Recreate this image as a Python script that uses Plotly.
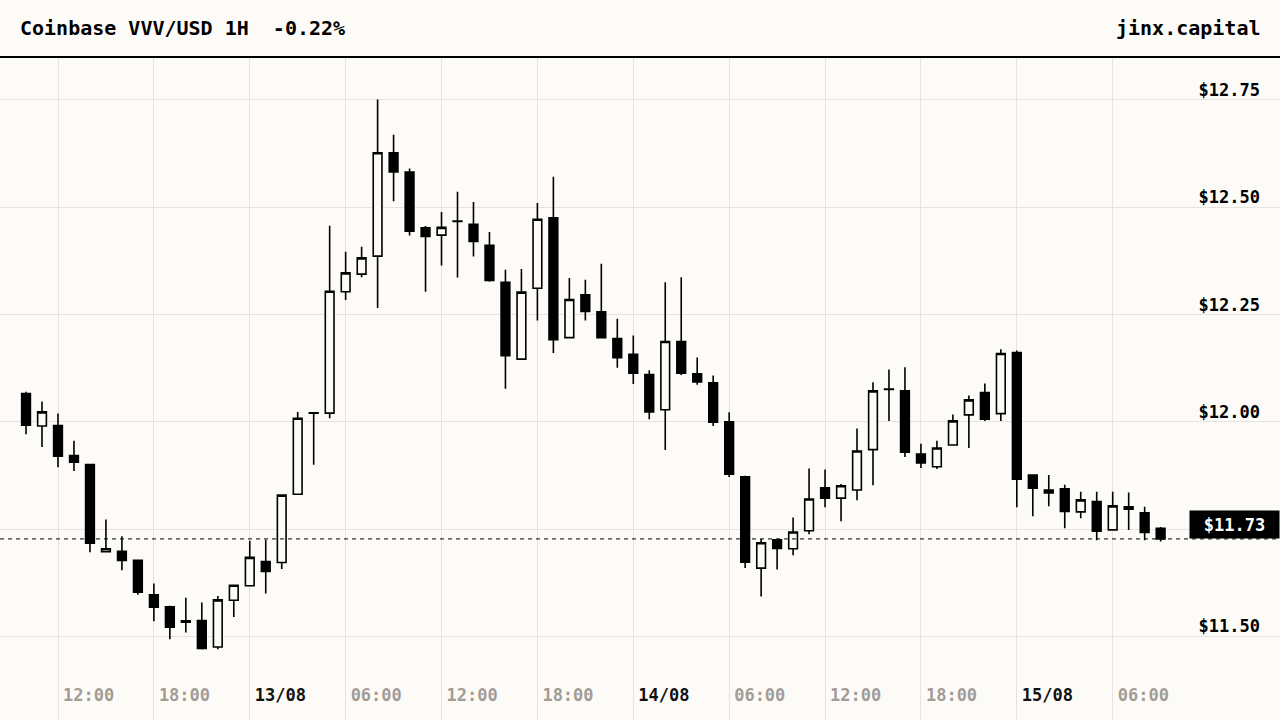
import pandas as pd
import plotly.graph_objects as go

# hourly candles, Coinbase VVV/USD, 12/08 10:00 -> 15/08 09:00
times = pd.date_range("2025-08-12 10:00", periods=72, freq="h")

opens = [
    12.066, 11.990, 11.991, 11.921, 11.900, 11.697, 11.698, 11.677, 11.597, 11.569,
    11.533, 11.537, 11.475, 11.584, 11.618, 11.674, 11.672, 11.831, 12.020, 12.020,
    12.303, 12.344, 12.386, 12.627, 12.582, 12.452, 12.435, 12.467, 12.460, 12.411,
    12.325, 12.146, 12.311, 12.475, 12.196, 12.296, 12.256, 12.194, 12.157, 12.110,
    12.028, 12.187, 12.112, 12.091, 12.000, 11.872, 11.659, 11.725, 11.704, 11.746,
    11.846, 11.822, 11.841, 11.935, 12.075, 12.072, 11.925, 11.895, 11.946, 12.016,
    12.068, 12.019, 12.161, 11.876, 11.841, 11.844, 11.790, 11.814, 11.748, 11.802,
    11.788, 11.752,
]
highs = [
    12.070, 12.047, 12.019, 11.956, 11.900, 11.772, 11.733, 11.679, 11.623, 11.571,
    11.590, 11.579, 11.594, 11.619, 11.723, 11.725, 11.830, 12.023, 12.023, 12.457,
    12.396, 12.408, 12.751, 12.669, 12.590, 12.456, 12.489, 12.536, 12.512, 12.442,
    12.354, 12.356, 12.510, 12.571, 12.335, 12.331, 12.368, 12.240, 12.201, 12.120,
    12.325, 12.337, 12.150, 12.108, 12.022, 11.874, 11.727, 11.727, 11.777, 11.891,
    11.889, 11.855, 11.984, 12.092, 12.122, 12.127, 11.949, 11.956, 12.017, 12.061,
    12.089, 12.169, 12.166, 11.876, 11.876, 11.853, 11.837, 11.837, 11.837, 11.835,
    11.802, 11.755,
]
lows = [
    11.971, 11.941, 11.894, 11.885, 11.696, 11.697, 11.654, 11.597, 11.535, 11.493,
    11.509, 11.469, 11.470, 11.545, 11.616, 11.600, 11.657, 11.831, 11.900, 12.008,
    12.284, 12.337, 12.265, 12.514, 12.434, 12.303, 12.364, 12.336, 12.385, 12.326,
    12.077, 12.146, 12.236, 12.160, 12.196, 12.236, 12.196, 12.126, 12.088, 12.006,
    11.934, 12.109, 12.086, 11.990, 11.871, 11.659, 11.593, 11.656, 11.689, 11.738,
    11.801, 11.768, 11.817, 11.852, 12.002, 11.918, 11.892, 11.890, 11.946, 11.939,
    12.002, 12.002, 11.801, 11.780, 11.803, 11.752, 11.775, 11.724, 11.748, 11.748,
    11.724, 11.721,
]
closes = [
    11.992, 12.023, 11.920, 11.906, 11.717, 11.704, 11.677, 11.603, 11.568, 11.521,
    11.536, 11.472, 11.585, 11.619, 11.684, 11.651, 11.829, 12.008, 12.021, 12.304,
    12.347, 12.382, 12.627, 12.582, 12.444, 12.432, 12.453, 12.468, 12.420, 12.329,
    12.154, 12.302, 12.472, 12.191, 12.285, 12.257, 12.196, 12.149, 12.113, 12.023,
    12.187, 12.113, 12.093, 11.999, 11.878, 11.673, 11.718, 11.705, 11.743, 11.820,
    11.822, 11.851, 11.932, 12.072, 12.076, 11.929, 11.904, 11.939, 12.002, 12.051,
    12.006, 12.159, 11.866, 11.845, 11.834, 11.791, 11.818, 11.745, 11.804, 11.796,
    11.742, 11.727,
]

price_ticks = [11.50, 11.75, 12.00, 12.25, 12.50, 12.75]
time_ticks = pd.date_range("2025-08-12 12:00", "2025-08-15 06:00", freq="6h")

BG = "#fdfbf7"
GRID = "#e6e2dd"
FONT = "DejaVu Sans Mono"

last = closes[-1]

# dates in black, hours in grey
time_text = []
for t in time_ticks:
    if t.hour == 0:
        time_text.append('<span style="color:#111111">' + t.strftime("%d/%m") + "</span>")
    else:
        time_text.append(t.strftime("%H:%M"))

# the $11.75 label sits under the last-price badge, so leave it blank
price_text = ["" if abs(v - last) < 0.05 else f"${v:.2f}" for v in price_ticks]

fig = go.Figure(go.Candlestick(
    x=times,
    open=opens,
    high=highs,
    low=lows,
    close=closes,
    increasing=dict(fillcolor=BG, line=dict(color="#000000", width=1.6)),
    decreasing=dict(fillcolor="#000000", line=dict(color="#000000", width=1.6)),
    whiskerwidth=0,
    showlegend=False,
))

fig.add_shape(
    type="line", xref="paper", x0=0, x1=1, yref="y", y0=last, y1=last,
    line=dict(color="#000000", width=1, dash="4px,4px"),
)
fig.add_annotation(
    xref="paper", x=1, xanchor="right", yref="y", y=last, yanchor="bottom",
    text=f"${last:.2f}", showarrow=False, bgcolor="#000000",
    width=87, height=25, align="center",
    font=dict(family=FONT, size=17, color="#ffffff", weight="bold"),
)

# header
fig.add_shape(
    type="line", xref="paper", x0=0, x1=1, yref="paper", y0=1, y1=1,
    line=dict(color="#000000", width=2),
)
fig.add_annotation(
    xref="paper", x=0, xanchor="left", xshift=18,
    yref="paper", y=1.043, yanchor="middle",
    text="Coinbase VVV/USD 1H  -0.22%", showarrow=False,
    font=dict(family=FONT, size=20, color="#000000", weight="bold"),
)
fig.add_annotation(
    xref="paper", x=1, xanchor="right", xshift=-17,
    yref="paper", y=1.043, yanchor="middle",
    text="jinx.capital", showarrow=False,
    font=dict(family=FONT, size=20, color="#000000", weight="bold"),
)

fig.update_layout(
    width=1280,
    height=720,
    paper_bgcolor=BG,
    plot_bgcolor=BG,
    margin=dict(l=0, r=0, t=57, b=0),
    boxgap=0.22,
    hovermode=False,
)

fig.update_xaxes(
    type="date",
    range=["2025-08-12 08:22:15", "2025-08-15 16:28:10"],
    rangeslider=dict(visible=False),
    tickvals=time_ticks,
    ticktext=time_text,
    ticklabelposition="inside right",
    ticklabelstandoff=10,
    ticklabelshift=5,
    tickfont=dict(family=FONT, size=17, color="#a29c96", weight="bold"),
    showgrid=True,
    gridcolor=GRID,
    gridwidth=1,
    zeroline=False,
    showline=False,
    ticks="",
)

fig.update_yaxes(
    side="right",
    range=[11.305, 12.850],
    tickvals=price_ticks,
    ticktext=price_text,
    ticklabelposition="inside top",
    ticklabelstandoff=17,
    ticklabelshift=2,
    tickfont=dict(family=FONT, size=17, color="#000000", weight="bold"),
    showgrid=True,
    gridcolor=GRID,
    gridwidth=1,
    zeroline=False,
    showline=False,
    ticks="",
)

fig.write_html(
    "out.html",
    config={"displayModeBar": False},
    post_script="document.body.style.margin='0';",
)
